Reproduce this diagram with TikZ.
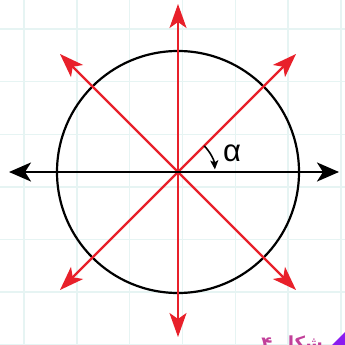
\documentclass[tikz,border=0pt]{standalone}
\usepackage{fontspec}
\setmainfont{Liberation Sans}
\newfontfamily\arabicfont[Script=Arabic]{DejaVu Sans}
\TeXXeTstate=1
\usetikzlibrary{arrows.meta}
\definecolor{gridc}{HTML}{E6F4F3}
\definecolor{redc}{HTML}{E8202A}
\definecolor{magc}{HTML}{C2409A}
\definecolor{purc}{HTML}{8A1CF0}
\tikzset{
  gridline/.style={draw=gridc, line width=1.4pt},
  redarrow/.style={draw=redc, line width=2.2pt,
    {Stealth[length=24pt,width=17pt,inset=6pt]}-{Stealth[length=24pt,width=17pt,inset=6pt]}},
  blackarrow/.style={draw=black, line width=2.6pt,
    {Stealth[length=22pt,width=19pt,inset=6pt]}-{Stealth[length=22pt,width=19pt,inset=6pt]}},
  circ/.style={draw=black, line width=2.2pt},
  anglearc/.style={draw=black, line width=1.6pt, -{Stealth[length=9pt,width=8pt,inset=2pt]}},
  lbl/.style={font=\fontsize{31}{31}\selectfont, inner sep=0pt}
}
\begin{document}
\begin{tikzpicture}[x=1pt,y=-1pt]
\useasboundingbox (0,0) rectangle (345,345);
\fill[white] (0,0) rectangle (345,345);
\clip (0,0) rectangle (345,345);
\foreach \i in {0,...,6} {
  \draw[gridline] ({24+52.8*\i},0) -- ({24+52.8*\i},345);
  \draw[gridline] (0,{29+52.6*\i}) -- (345,{29+52.6*\i});
}
\coordinate (O) at (178,172);
\coordinate (T) at (178,4);
\coordinate (B) at (178,337);
\coordinate (L) at (9,172);
\coordinate (R) at (339,172);
\coordinate (UL) at (60,54);
\coordinate (UR) at (296,54);
\coordinate (LL) at (60,290);
\coordinate (LR) at (296,290);
\draw[circ] (O) circle[radius=121];
\draw[redarrow] (T) -- (B);
\draw[redarrow] (UL) -- (LR);
\draw[redarrow] (UR) -- (LL);
\draw[blackarrow] (L) -- (R);
\draw[anglearc] (O) ++(-45:37) arc[start angle=-45, end angle=-4, radius=37];
\node[lbl] (alpha) at (232,153) {α};
\node[anchor=north, inner sep=0pt, text=magc] (cap) at (292,336)
  {\arabicfont\bfseries\fontsize{18}{18}\selectfont\beginR شکل ۴\endR};
\fill[purc] (332,345) -- (345,332) -- (345,345) -- cycle;
\end{tikzpicture}
\end{document}
